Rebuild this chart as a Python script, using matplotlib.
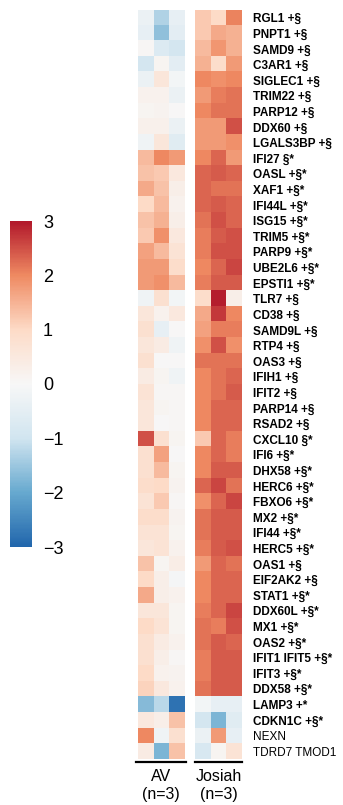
import numpy as np
import matplotlib
matplotlib.use("Agg")
import matplotlib.pyplot as plt
from matplotlib.colors import LinearSegmentedColormap
from matplotlib.lines import Line2D

plt.rcParams['font.family'] = ['Liberation Sans', 'DejaVu Sans']

genes = ["RGL1 +§", "PNPT1 +§", "SAMD9 +§", "C3AR1 +§", "SIGLEC1 +§", "TRIM22 +§",
         "PARP12 +§", "DDX60 +§", "LGALS3BP +§", "IFI27 §*", "OASL +§*", "XAF1 +§*",
         "IFI44L +§*", "ISG15 +§*", "TRIM5 +§*", "PARP9 +§*", "UBE2L6 +§*", "EPSTI1 +§*",
         "TLR7 +§", "CD38 +§", "SAMD9L +§", "RTP4 +§", "OAS3 +§", "IFIH1 +§",
         "IFIT2 +§", "PARP14 +§", "RSAD2 +§", "CXCL10 §*", "IFI6 +§*", "DHX58 +§*",
         "HERC6 +§*", "FBXO6 +§*", "MX2 +§*", "IFI44 +§*", "HERC5 +§*", "OAS1 +§",
         "EIF2AK2 +§", "STAT1 +§*", "DDX60L +§*", "MX1 +§*", "OAS2 +§*", "IFIT1 IFIT5 +§*",
         "IFIT3 +§*", "DDX58 +§*", "LAMP3 +*", "CDKN1C +§*", "NEXN", "TDRD7 TMOD1"]
bold_labels = [True] * 46 + [False, False]

groups = ["AV", "Josiah"]
group_n = ["(n=3)", "(n=3)"]

av_values = [
    [-0.3, -1.3, -0.4], [-0.4, -1.6, -0.5], [0.05, -0.7, -0.9], [-0.9, 0.1, -0.5],
    [-0.3, 0.6, -0.1], [0.2, 0.2, -0.3], [0.1, 0.15, 0.0], [0.25, 0.25, -0.3],
    [-0.2, 0.6, -0.6], [1.4, 2.0, 1.8], [1.3, 1.2, 0.5], [1.6, 1.3, 0.3],
    [1.0, 1.4, 0.2], [1.3, 1.5, 0.3], [1.2, 1.9, 0.5], [1.7, 1.4, 0.7],
    [1.8, 1.8, 0.9], [1.8, 1.9, 1.4], [-0.2, 0.8, -0.1], [0.6, 0.2, 0.5],
    [0.8, -0.4, 0.0], [0.6, 0.4, -0.2], [0.8, 0.0, 0.0], [0.4, 0.1, -0.2],
    [0.7, 0.05, 0.05], [0.6, 0.1, 0.05], [0.6, 0.0, 0.05], [2.5, 0.8, 0.1],
    [0.8, 1.7, 0.0], [0.8, 1.4, 0.1], [0.9, 1.0, 0.15], [0.7, 1.2, 0.05],
    [0.9, 0.9, 0.15], [0.7, 0.7, 0.1], [0.6, 0.7, 0.2], [1.3, 0.1, 0.35],
    [1.0, 0.3, -0.05], [1.6, 0.3, 0.2], [0.6, 0.6, 0.1], [1.0, 0.7, 0.1],
    [0.8, 0.4, 0.2], [0.8, 0.3, 0.05], [1.0, 0.2, 0.15], [1.1, 0.5, 0.2],
    [-1.7, -1.2, -2.8], [0.5, 0.3, 1.3], [2.0, -0.2, 0.8], [0.4, -1.8, 1.3]]

josiah_values = [
    [1.2, 1.0, 2.05], [1.2, 1.6, 1.5], [1.4, 1.85, 1.5], [1.5, 0.9, 1.8],
    [2.0, 1.9, 2.0], [1.8, 2.1, 2.2], [2.0, 2.2, 2.2], [1.8, 1.8, 2.5],
    [1.8, 1.8, 1.9], [2.0, 2.3, 1.8], [2.3, 2.4, 2.3], [2.3, 2.2, 2.2],
    [2.3, 2.4, 2.3], [2.2, 2.5, 2.3], [2.1, 2.4, 2.5], [2.1, 2.5, 2.5],
    [2.0, 2.3, 2.6], [2.1, 2.4, 2.4], [0.9, 2.95, 0.3], [1.6, 2.7, 2.0],
    [1.7, 2.1, 2.1], [1.9, 2.5, 1.9], [2.2, 2.2, 2.2], [2.0, 2.2, 2.3],
    [2.0, 2.2, 2.4], [2.0, 2.3, 2.3], [2.0, 2.3, 2.3], [1.2, 2.3, 2.1],
    [2.0, 2.3, 2.1], [2.0, 2.4, 2.4], [2.3, 2.6, 2.2], [1.9, 2.3, 2.6],
    [2.2, 2.4, 2.4], [2.2, 2.4, 2.4], [2.1, 2.4, 2.5], [1.8, 2.3, 2.2],
    [2.0, 2.3, 2.3], [2.0, 2.3, 2.3], [2.1, 2.3, 2.6], [2.2, 2.1, 2.5],
    [2.2, 2.4, 2.3], [2.1, 2.4, 2.4], [2.1, 2.4, 2.4], [2.2, 2.4, 2.4],
    [-0.1, -0.4, -0.4], [-0.9, -1.8, -0.6], [-0.3, 1.8, -0.4], [-0.8, 0.1, 0.7]]

cbar_ticks = [-3, -2, -1, 0, 1, 2, 3]

cmap = LinearSegmentedColormap.from_list(
    "rdbu7", ["#2166ac", "#67a9cf", "#d1e5f0", "#f7f7f7", "#fddbc7", "#ef8a62", "#b2182b"])

W, H = 343, 805
fig = plt.figure(figsize=(W / 100, H / 100), dpi=100)

def px_axes(x0, y0, x1, y1):
    return fig.add_axes([x0 / W, 1 - y1 / H, (x1 - x0) / W, (y1 - y0) / H])

top, bottom = 10, 759
ax_av = px_axes(138, top, 185, bottom)
ax_jo = px_axes(195, top, 242, bottom)

n = len(genes)
for ax, vals in [(ax_av, av_values), (ax_jo, josiah_values)]:
    im = ax.imshow(np.array(vals), cmap=cmap, vmin=-3, vmax=3, aspect='auto',
                   interpolation='nearest')
    for s in ax.spines.values():
        s.set_visible(False)
    ax.set_xticks([])
    ax.set_yticks([])

ax_jo.yaxis.tick_right()
ax_jo.set_yticks(range(n))
ax_jo.set_yticklabels(genes, fontsize=8.5)
ax_jo.tick_params(axis='y', length=0, pad=8)
for lbl, b in zip(ax_jo.get_yticklabels(), bold_labels):
    lbl.set_fontweight('bold' if b else 'normal')

# group underlines and labels
for (x0, x1), g, nn in zip([(136, 186), (195, 242)], groups, group_n):
    yl = 1 - 762 / H
    fig.add_artist(Line2D([x0 / W, x1 / W], [yl, yl], color='black', lw=1.6))
    fig.text((x0 + x1) / 2 / W, 1 - 776 / H, g, ha='center', va='center', fontsize=11.5)
    fig.text((x0 + x1) / 2 / W, 1 - 794 / H, nn, ha='center', va='center', fontsize=11.5)

cax = px_axes(10, 221, 32, 547)
cb = fig.colorbar(im, cax=cax, ticks=cbar_ticks)
cb.outline.set_visible(False)
cax.tick_params(length=0, labelsize=13, pad=8)

fig.savefig("out.png", dpi=100)
